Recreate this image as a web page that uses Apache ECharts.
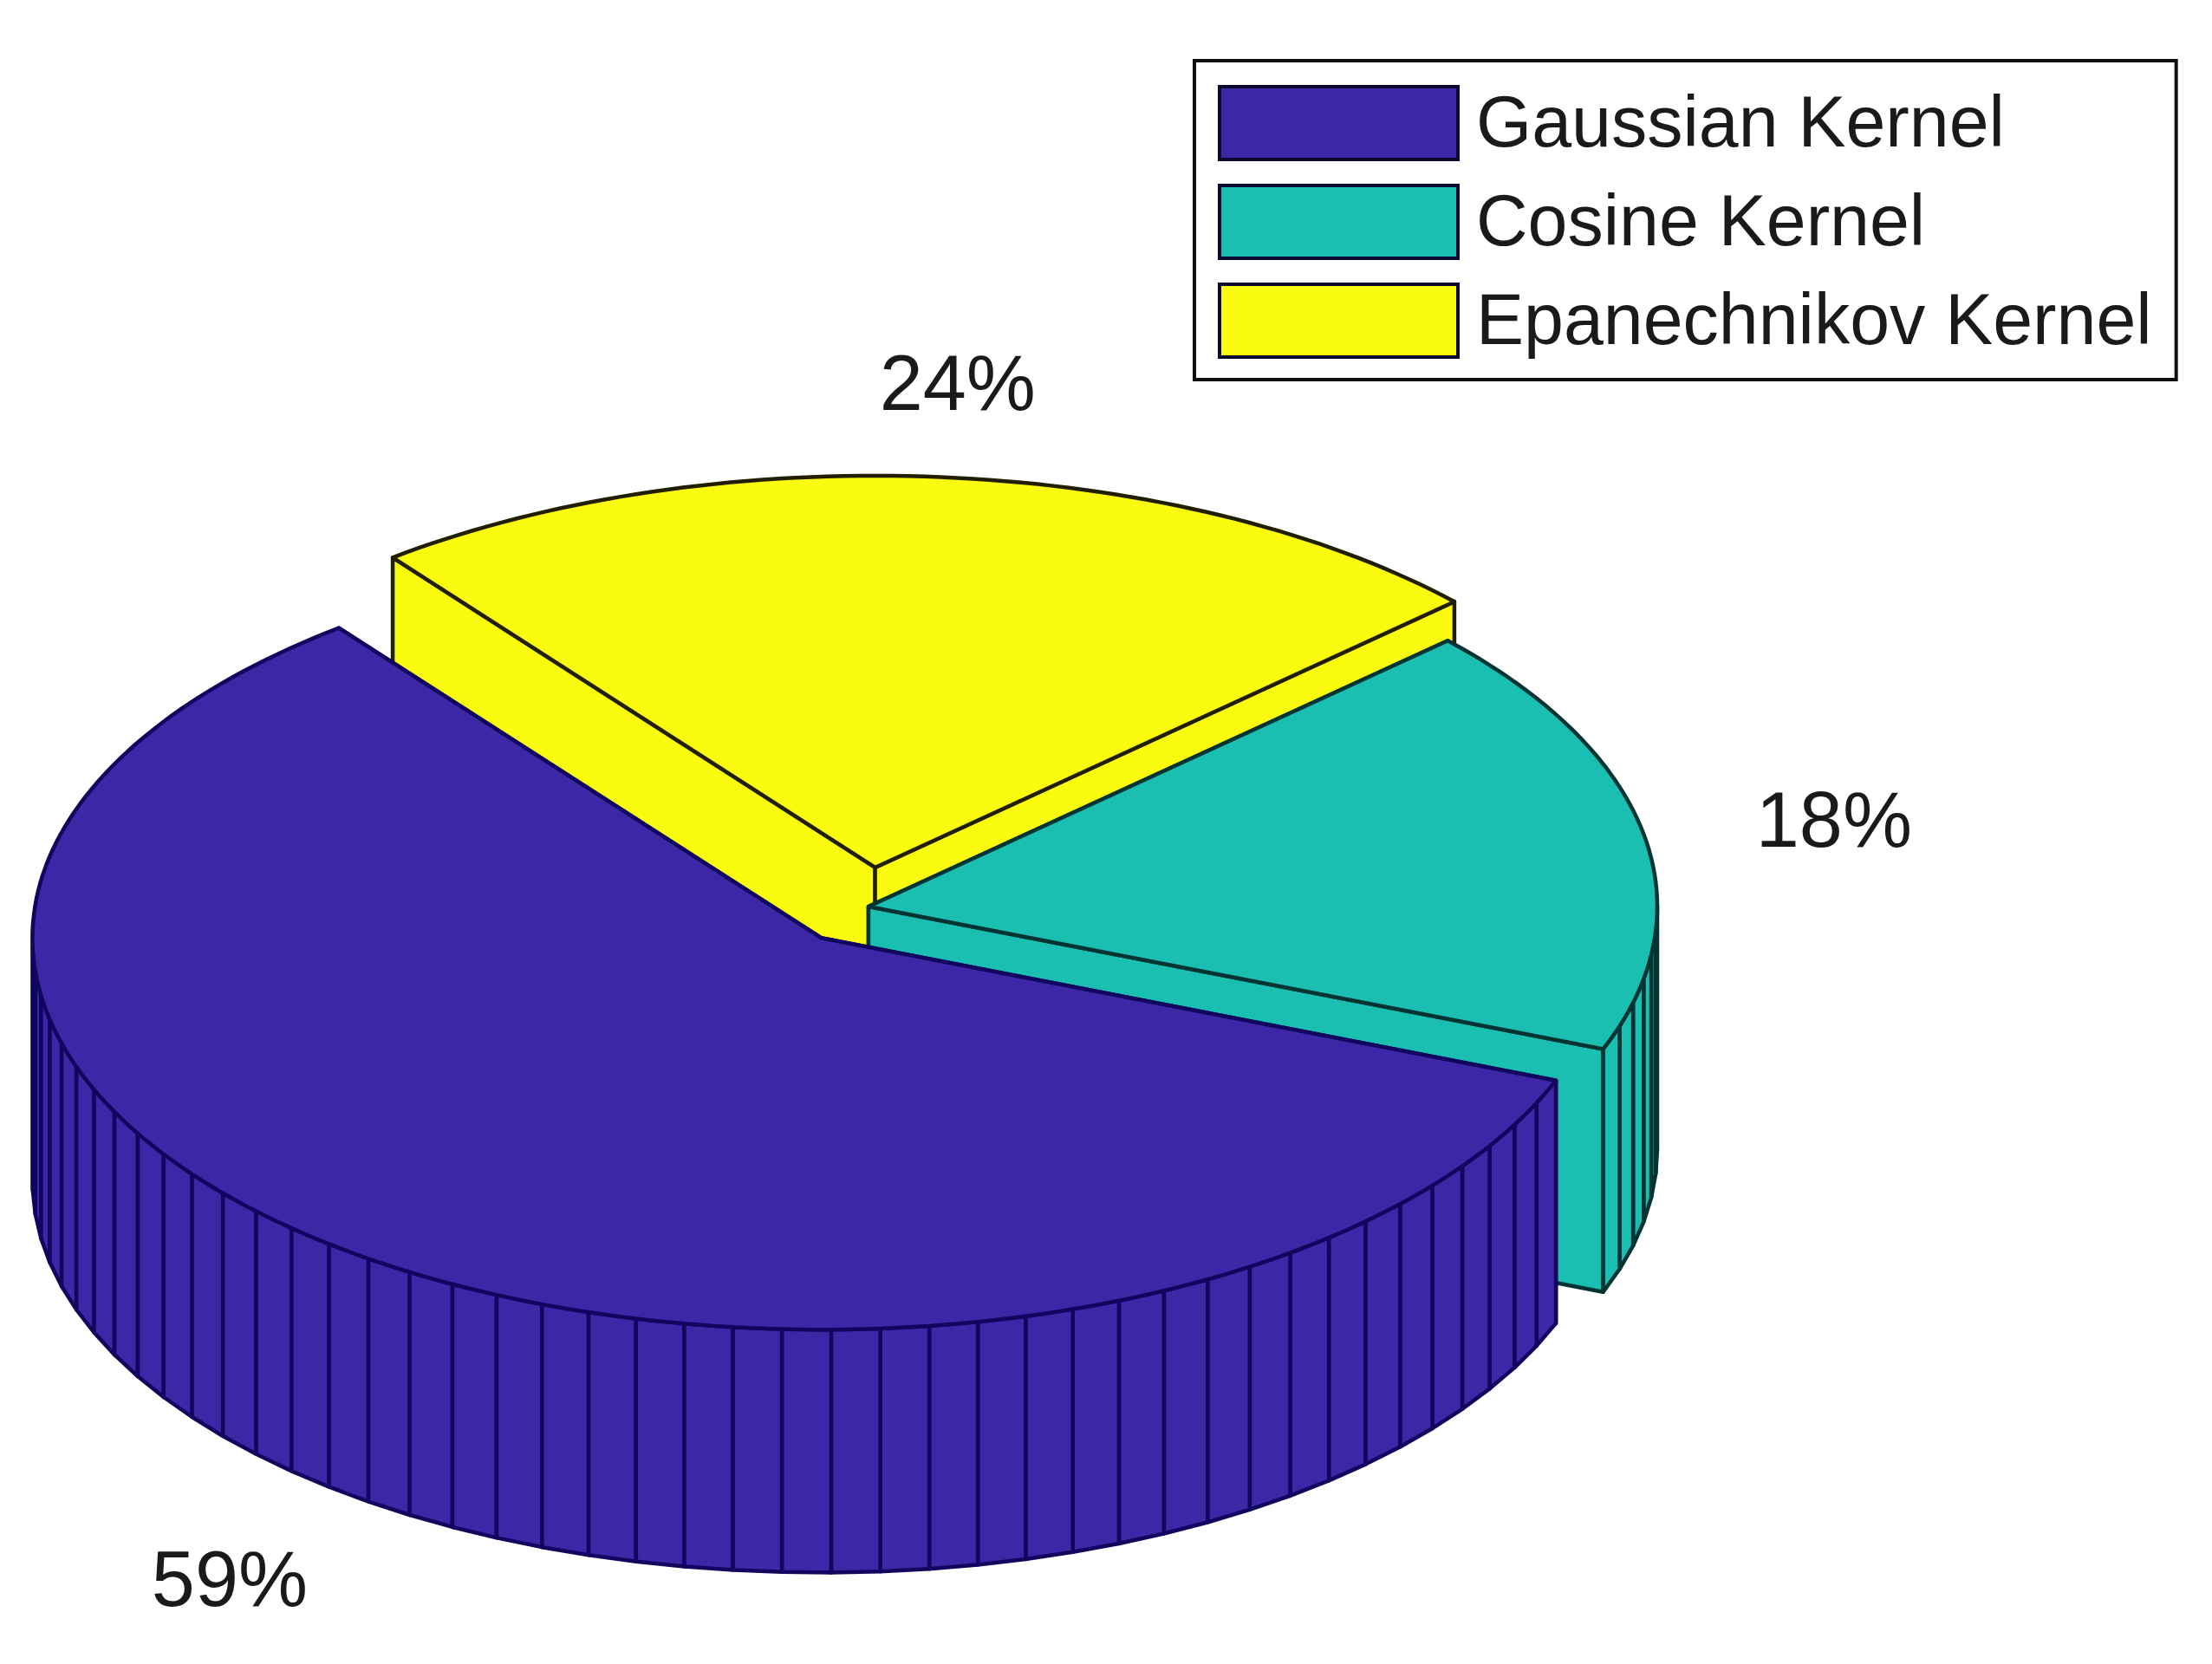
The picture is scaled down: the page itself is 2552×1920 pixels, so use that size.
<!DOCTYPE html>
<html>
<head>
<meta charset="utf-8">
<style>html,body{margin:0;padding:0;background:#fff}#main{width:2552px;height:1920px}</style>
<script src="https://cdn.jsdelivr.net/npm/echarts@6/dist/echarts.min.js"></script>
</head>
<body>
<div id="main"></div>
<script>
// ---- data ----
const categories = ['Gaussian Kernel', 'Cosine Kernel', 'Epanechnikov Kernel'];
const shares = [58.6, 17.8, 23.6];
const percentLabels = ['59%', '18%', '24%'];
const explodeBy = [0.1, 0, 0.1];

// ---- styles and layout, kept apart from the data ----
const fillColors = ['#3D27A6', '#1ABFB2', '#FAFB0E'];
const edgeColors = ['#100660', '#013432', '#221E00'];
const paintOrder = [4, 3, 2];
const labelAnchors = [[-0.810, -1.730], [1.224, 0.208], [0.113, 1.323]];
const START_DEG = 127.7;
const WALL = 0.62;
const CENTER_PX = [1002, 1046];
const RADIUS_PX = [910, 452];

const total = shares.reduce((a, b) => a + b, 0);
const rad = d => d * Math.PI / 180;
let cursor = START_DEG;
const spans = shares.map(v => {
  const from = cursor;
  cursor += v / total * 360;
  return [from, cursor];
});

function renderSlice(params, api) {
  const i = params.seriesIndex;
  const [from, to] = spans[i];
  const mid = rad((from + to) / 2);
  const ox = explodeBy[i] * Math.cos(mid);
  const oy = explodeBy[i] * Math.sin(mid);
  const facets = Math.ceil(api.value(0));
  const fill = fillColors[i];
  const edge = edgeColors[i];
  const style = { fill: fill, stroke: edge, lineWidth: 4.5, lineJoin: 'round' };
  const top = (deg) => [ox + Math.cos(rad(deg)), oy + Math.sin(rad(deg))];
  const down = (p) => [p[0], p[1] - WALL];
  const px = (p) => api.coord(p);
  const poly = (pts) => ({ type: 'polygon', shape: { points: pts.map(px) }, style: style, silent: true });
  const children = [];
  const apex = [ox, oy];

  // cut faces, the one further back first
  [from, to].sort((a, b) => Math.sin(rad(b)) - Math.sin(rad(a))).forEach(deg => {
    const rim = top(deg);
    children.push(poly([apex, rim, down(rim), down(apex)]));
  });
  // outer wall: only the panels that face the viewer
  const panels = [];
  for (let k = 0; k < facets; k++) {
    const a = from + (to - from) * k / facets;
    const b = from + (to - from) * (k + 1) / facets;
    if (Math.sin(rad((a + b) / 2)) >= 0.02) continue;
    const pa = top(a), pb = top(b);
    panels.push({ depth: Math.sin(rad((a + b) / 2)), pts: [pa, pb, down(pb), down(pa)] });
  }
  panels.sort((p, q) => q.depth - p.depth).forEach(p => children.push(poly(p.pts)));
  // top face
  const arc = [];
  for (let k = 0; k <= facets * 3; k++) arc.push(top(from + (to - from) * k / (facets * 3)));
  children.push(poly([apex].concat(arc)));
  // percentage text
  const at = api.coord(labelAnchors[i]);
  children.push({
    type: 'text', silent: true,
    style: {
      x: at[0], y: at[1], text: percentLabels[i], fill: '#1a1a1a',
      font: '90px "Liberation Sans", Arial, sans-serif',
      textAlign: 'center', textVerticalAlign: 'middle'
    }
  });
  return { type: 'group', children: children };
}

const chart = echarts.init(document.getElementById('main'), null, { renderer: 'canvas' });
chart.setOption({
  backgroundColor: '#ffffff',
  animation: false,
  grid: { left: 0, right: 0, top: 0, bottom: 0, containLabel: false },
  xAxis: { type: 'value', show: false,
    min: -CENTER_PX[0] / RADIUS_PX[0], max: (2552 - CENTER_PX[0]) / RADIUS_PX[0] },
  yAxis: { type: 'value', show: false,
    min: (CENTER_PX[1] - 1920) / RADIUS_PX[1], max: CENTER_PX[1] / RADIUS_PX[1] },
  legend: {
    show: true, orient: 'vertical', left: 1378, top: 70,
    data: categories,
    icon: 'rect', itemWidth: 275, itemHeight: 84, itemGap: 22,
    padding: [26, 28, 22, 27],
    backgroundColor: '#fff', borderColor: '#111', borderWidth: 4, borderRadius: 0,
    selectedMode: false,
    itemStyle: { borderColor: '#0a0a30', borderWidth: 4 },
    formatter: name => '{t|' + name + '}',
    textStyle: {
      rich: { t: { fontFamily: '"Liberation Sans", Arial, sans-serif', fontSize: 82.5, color: '#1a1a1a', lineHeight: 90, padding: [9, 0, 0, 16] } }
    }
  },
  tooltip: { show: false },
  series: categories.map((name, i) => ({
    type: 'custom', name: name, coordinateSystem: 'cartesian2d',
    z: paintOrder[i], clip: false, silent: true,
    itemStyle: { color: fillColors[i] },
    renderItem: renderSlice,
    encode: { x: 1, y: 2 },
    data: [[shares[i], 0, 0]]
  }))
});
</script>
</body>
</html>
